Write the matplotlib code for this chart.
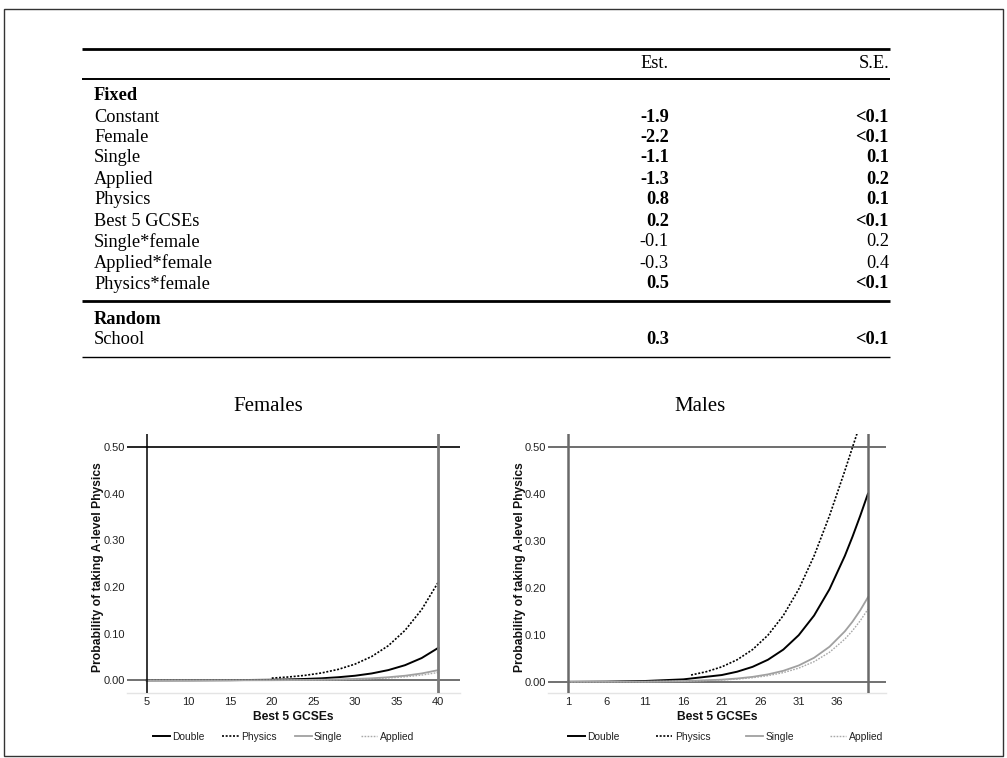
import matplotlib
matplotlib.use("Agg")
import matplotlib.pyplot as plt
from matplotlib.lines import Line2D
from matplotlib.patches import Rectangle

# ---------------- table data ----------------
col_headers = ["Est.", "S.E."]
row_labels = ["Fixed", "Constant", "Female", "Single", "Applied", "Physics",
              "Best 5 GCSEs", "Single*female", "Applied*female", "Physics*female",
              "Random", "School"]
section_rows = ["Fixed", "Random"]
est_values = ["", "-1.9", "-2.2", "-1.1", "-1.3", "0.8", "0.2", "-0.1", "-0.3", "0.5", "", "0.3"]
se_values = ["", "<0.1", "<0.1", "0.1", "0.2", "0.1", "<0.1", "0.2", "0.4", "<0.1", "", "<0.1"]
significant = [False, True, True, True, True, True, True, False, False, True, False, True]

# ---------------- chart data ----------------
legend_labels = ["Double", "Physics", "Single", "Applied"]
y_ticks = [0.00, 0.10, 0.20, 0.30, 0.40, 0.50]

fem_xticks = [5, 10, 15, 20, 25, 30, 35, 40]
fem_x = [5, 10, 15, 20, 22, 24, 26, 28, 30, 32, 34, 36, 38, 40]
fem_double = [0.0001, 0.0002, 0.0005, 0.0014, 0.0021, 0.0031, 0.0045, 0.0068,
              0.0100, 0.0149, 0.0221, 0.0326, 0.0479, 0.0698]
fem_single = [0.0000, 0.0001, 0.0002, 0.0004, 0.0006, 0.0009, 0.0014, 0.0021,
              0.0031, 0.0045, 0.0068, 0.0100, 0.0149, 0.0221]
fem_applied = [0.0000, 0.0000, 0.0001, 0.0003, 0.0005, 0.0007, 0.0011, 0.0016,
               0.0023, 0.0035, 0.0052, 0.0077, 0.0114, 0.0170]
fem_phys_x = [20, 22, 24, 26, 28, 30, 32, 34, 36, 38, 40]
fem_physics = [0.0049, 0.0073, 0.0108, 0.0160, 0.0237, 0.0349, 0.0512, 0.0744,
               0.1072, 0.1518, 0.2108]

male_xticks = [1, 6, 11, 16, 21, 26, 31, 36]
male_x = [1, 6, 11, 16, 21, 23, 25, 27, 29, 31, 33, 35, 37, 38, 39, 40]
male_double = [0.0003, 0.0007, 0.0020, 0.0055, 0.0147, 0.0218, 0.0321, 0.0472,
               0.0688, 0.0994, 0.1412, 0.1970, 0.2680, 0.3090, 0.3532, 0.4000]
male_single = [0.0001, 0.0002, 0.0007, 0.0018, 0.0049, 0.0073, 0.0108, 0.0161,
               0.0237, 0.0350, 0.0514, 0.0748, 0.1076, 0.1283, 0.1523, 0.1800]
male_applied = [0.0001, 0.0002, 0.0006, 0.0015, 0.0041, 0.0061, 0.0090, 0.0134,
                0.0198, 0.0293, 0.0431, 0.0630, 0.0911, 0.1091, 0.1301, 0.1545]
male_phys_x = [17, 19, 21, 23, 25, 27, 29, 31, 33, 35, 37, 38, 39, 40]
male_physics = [0.0147, 0.0218, 0.0321, 0.0472, 0.0688, 0.0994, 0.1412, 0.1970,
                0.2680, 0.3532, 0.4490, 0.4990, 0.5490, 0.5970]

W, H = 1007, 758
fig = plt.figure(figsize=(W / 100, H / 100), dpi=100)
fig.patch.set_facecolor("white")

SERIF = ["Liberation Serif", "DejaVu Serif"]
SANS = ["Liberation Sans", "DejaVu Sans"]

# ---------------- table (pixel coordinate overlay) ----------------
tab = fig.add_axes([0, 0, 1, 1], zorder=-1)
tab.set_xlim(0, W)
tab.set_ylim(H, 0)
tab.axis("off")

tab.add_patch(Rectangle((4, 9), 999, 747, fill=False, edgecolor="#333333", lw=1.0))

x_left, x_right = 82, 890
x_lab, x_est, x_se = 94, 669, 889
FS = 13.2
tab.plot([x_left, x_right], [48.5, 48.5], color="black", lw=2.0, solid_capstyle="butt")
tab.plot([x_left, x_right], [78.5, 78.5], color="black", lw=1.4, solid_capstyle="butt")
tab.text(x_est, 64, col_headers[0], ha="right", va="center", fontsize=FS, family=SERIF)
tab.text(x_se, 64, col_headers[1], ha="right", va="center", fontsize=FS, family=SERIF)

row_y = [96, 117, 137.5, 158, 179, 200, 221, 242, 263, 284, 319, 339]
for lab, e, s, sig, y in zip(row_labels, est_values, se_values, significant, row_y):
    w = "bold" if lab in section_rows else "normal"
    tab.text(x_lab, y, lab, ha="left", va="center", fontsize=FS, family=SERIF, weight=w)
    vw = "bold" if sig else "normal"
    if e:
        tab.text(x_est, y, e, ha="right", va="center", fontsize=FS, family=SERIF, weight=vw)
    if s:
        tab.text(x_se, y, s, ha="right", va="center", fontsize=FS, family=SERIF, weight=vw)
tab.plot([x_left, x_right], [301, 301], color="black", lw=2.0, solid_capstyle="butt")
tab.plot([x_left, x_right], [357, 357], color="black", lw=1.0, solid_capstyle="butt")

# ---------------- charts ----------------
styles = {
    "Double": dict(color="black", lw=1.4, ls="-"),
    "Physics": dict(color="black", lw=1.2, ls=(0, (1.2, 1.0))),
    "Single": dict(color="#a0a0a0", lw=1.3, ls="-"),
    "Applied": dict(color="#a8a8a8", lw=1.0, ls=(0, (1.2, 1.0))),
}


def px_axes(x0, x1, y0, y1):
    return fig.add_axes([x0 / W, 1 - y1 / H, (x1 - x0) / W, (y1 - y0) / H])


def setup(ax, xticks, xlim, ylim, vlines, vcolors, hcolors, ylab_x, xlab_y, title, title_x):
    ax.set_xlim(*xlim)
    ax.set_ylim(*ylim)
    for sp in ["top", "right", "left"]:
        ax.spines[sp].set_visible(False)
    ax.spines["bottom"].set_color("#e4e4e4")
    ax.spines["bottom"].set_linewidth(1.0)
    ax.set_xticks(xticks)
    ax.set_xticklabels([str(t) for t in xticks])
    ax.set_yticks(y_ticks)
    ax.set_yticklabels([f"{t:.2f}" for t in y_ticks])
    ax.tick_params(axis="both", length=0, labelsize=8, labelcolor="#222222")
    ax.tick_params(axis="x", pad=3)
    ax.tick_params(axis="y", pad=1.6)
    for lab in ax.get_xticklabels() + ax.get_yticklabels():
        lab.set_family(SANS)
    for xv, c in zip(vlines, vcolors):
        ax.axvline(xv, color=c[0], lw=c[1], zorder=3)
    ax.axhline(y_ticks[-1], color=hcolors[0][0], lw=hcolors[0][1], zorder=1)
    ax.axhline(y_ticks[0], color=hcolors[1][0], lw=hcolors[1][1], zorder=1)
    ax.set_xlabel("Best 5 GCSEs", fontsize=8.7, weight="bold", family=SANS, color="#111111")
    ax.xaxis.set_label_coords(0.5, xlab_y)
    ax.xaxis.label.set_va("center")
    ax.set_ylabel("Probability of taking A-level Physics", fontsize=8.7, weight="bold",
                  family=SANS, color="#111111", va="center")
    ax.yaxis.set_label_coords(ylab_x, 0.485)
    fig.text(title_x / W, 1 - 406.5 / H, title, ha="center", va="center",
             fontsize=15, family=SERIF)


# Females
axf = px_axes(127, 460, 434, 693)
for name, xs, ys in [("Double", fem_x, fem_double), ("Single", fem_x, fem_single),
                     ("Applied", fem_x, fem_applied), ("Physics", fem_phys_x, fem_physics)]:
    axf.plot(xs, ys, zorder=2, **styles[name])
setup(axf, fem_xticks, (2.63, 42.6), (-0.027, 0.528),
      [fem_x[0], fem_x[-1]], [("black", 1.1), ("#7a7a7a", 2.0)],
      [("black", 1.2), ("#666666", 1.3)], -0.088, -0.091, "Females", 268.7)

# Males
axm = px_axes(548.3, 886, 434, 693)
for name, xs, ys in [("Double", male_x, male_double), ("Single", male_x, male_single),
                     ("Applied", male_x, male_applied), ("Physics", male_phys_x, male_physics)]:
    axm.plot(xs, ys, zorder=2, **styles[name])
setup(axm, male_xticks, (-1.56, 42.35), (-0.0235, 0.527),
      [male_x[0], male_x[-1]], [("#6a6a6a", 1.8), ("#6a6a6a", 1.8)],
      [("#555555", 1.2), ("#666666", 1.3)], -0.085, -0.091, "Males", 700)

# Legends
handles = [Line2D([], [], **styles[n]) for n in legend_labels]
for ax, cx, cs in [(axf, 283.5, 1.75), (axm, 725.7, 3.5)]:
    leg = ax.legend(handles, legend_labels, loc="center",
                    bbox_to_anchor=(cx / W, 1 - 736.5 / H), bbox_transform=fig.transFigure,
                    ncol=4, frameon=False, handlelength=1.6, handletextpad=0.25,
                    columnspacing=cs, borderpad=0, borderaxespad=0,
                    prop={"family": SANS, "size": 7.4})
    for t in leg.get_texts():
        t.set_color("#222222")

fig.savefig("out.png", dpi=100)
